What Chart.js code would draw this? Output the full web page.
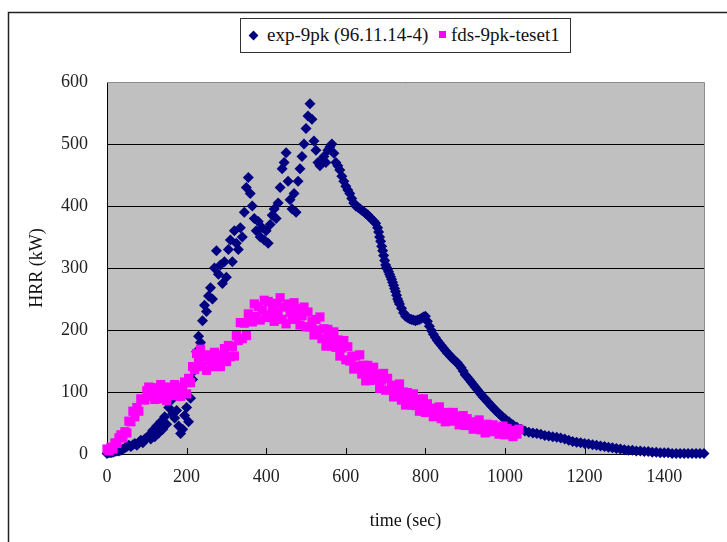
<!DOCTYPE html>
<html>
<head>
<meta charset="utf-8">
<script src="https://cdn.jsdelivr.net/npm/chart.js@4"></script>
<style>
  body { margin: 0; background: #fff; }
  #caixa { position: relative; width: 727px; height: 542px; }
  #legenda {
    position: absolute; left: 240px; top: 18px; width: 331px; height: 35px;
    box-sizing: border-box; border: 1px solid #333; background: #fff;
    font: 19px "Liberation Serif", "Times New Roman", serif; color: #111;
  }
  #legenda span { position: absolute; }
  .losango { width: 7px; height: 7px; background: #000080; transform: rotate(45deg); top: 13px; }
  .quadrado { width: 7px; height: 7px; background: #ff00ff; top: 12px; }
</style>
</head>
<body>
<div id="caixa">
  <canvas id="graficoHRR"></canvas>
  <div id="legenda">
    <span class="losango" style="left:9px"></span>
    <span style="left:26px;top:5px">exp-9pk (96.11.14-4)</span>
    <span class="quadrado" style="left:198px"></span>
    <span style="left:210px;top:5px">fds-9pk-teset1</span>
  </div>
</div>
<script>
// ensaio exp-9pk (96.11.14-4) - tempo (s)
const tempoExp = [
  0, 5, 10, 15, 20, 25, 30, 35, 40, 45, 50, 55, 60, 65, 70, 75, 80, 85, 90, 95,
  100, 105, 110, 115, 120, 125, 130, 135, 140, 145, 150, 155, 160, 165, 170, 175, 180, 185, 190, 195,
  200, 205, 210, 215, 220, 225, 230, 235, 240, 245, 250, 255, 260, 265, 270, 275, 280, 285, 290, 295,
  300, 305, 310, 315, 320, 325, 330, 335, 340, 345, 350, 355, 360, 365, 370, 375, 380, 385, 390, 395,
  400, 405, 410, 415, 420, 425, 430, 435, 440, 445, 450, 455, 460, 465, 470, 475, 480, 485, 490, 495,
  500, 505, 510, 515, 520, 525, 530, 535, 540, 545, 550, 555, 560, 565, 570, 575, 580, 585, 590, 595,
  600, 605, 610, 615, 620, 625, 630, 635, 640, 645, 650, 655, 660, 665, 670, 675, 680,
  682.5, 685, 687.5, 690, 692.5, 695, 697.5,
  700, 702.5, 705, 707.5, 710, 712.5, 715, 717.5, 720, 722.5, 725, 727.5, 730, 732.5, 735,
  740, 745, 750, 755, 760, 765, 770, 775, 780, 785, 790, 795,
  800, 805, 810, 815, 820, 825, 830, 835, 840, 845, 850, 855, 860, 865, 870, 875, 880, 885, 890, 895,
  900, 905, 910, 915, 920, 925, 930, 935, 940, 945, 950, 955, 960, 965, 970, 975, 980, 985, 990, 995,
  1000, 1010, 1020, 1030, 1040, 1050, 1060, 1070, 1080, 1090,
  1100, 1110, 1120, 1130, 1140, 1150, 1160, 1170, 1180, 1190,
  1200, 1210, 1220, 1230, 1240, 1250, 1260, 1270, 1280, 1290,
  1300, 1310, 1320, 1330, 1340, 1350, 1360, 1370, 1380, 1390,
  1400, 1410, 1420, 1430, 1440, 1450, 1460, 1470, 1480, 1490, 1500
];
// HRR medido (kW)
const hrrExp = [
  1, 2, 2, 3, 4, 5, 5, 6, 8, 10, 12, 14, 12, 15, 17, 14, 19, 22, 18, 24,
  26, 30, 24, 38, 28, 45, 34, 52, 40, 60, 48, 75, 86, 65, 58, 70, 45, 33, 40, 62,
  75, 52, 90, 120, 135, 165, 190, 180, 215, 240, 230, 255, 268, 250, 300, 328, 290, 305, 275, 310,
  285, 330, 345, 310, 360, 340, 330, 365, 350, 390, 430, 446, 420, 400, 380, 360, 375, 350, 365, 345,
  360, 340, 370, 385, 395, 380, 405, 430, 460, 470, 486, 440, 410, 395, 420, 390, 440, 460, 480, 500,
  525, 545, 565, 540, 505, 490, 470, 465, 475, 480, 470, 490, 495, 500, 485, 470, 465, 458, 448, 440,
  432, 426, 420, 412, 405, 400, 398, 396, 393, 391, 388, 386, 382, 379, 376, 372, 365,
  358, 350, 343, 335, 328, 320, 312,
  305, 301, 298, 294, 290, 286, 282, 277, 272, 267, 262, 256, 250, 246, 242,
  235, 228, 222, 220, 218, 217, 216, 215, 216, 217, 219, 221,
  222, 214, 206, 199, 193, 188, 183, 179, 175, 171, 167, 163, 160, 156, 153, 150, 147, 143, 139, 134,
  128, 124, 120, 116, 112, 108, 104, 100, 96, 92, 89, 85, 82, 78, 75, 71, 68, 65, 62, 59,
  57, 52, 47, 43, 40, 37, 35, 34, 33, 32,
  30, 29, 28, 27, 26, 24, 22, 20, 19, 18,
  17, 16, 15, 14, 13, 12, 11, 10, 9, 8,
  7, 6, 6, 5, 5, 4, 4, 3, 3, 2,
  2, 2, 1, 1, 1, 1, 1, 1, 1, 1, 1
];

// simulacao fds-9pk-teset1 - tempo (s)
const tempoFds = [
  0, 5, 10, 15, 20, 25, 30,
  35, 40, 45, 50, 55, 60, 65, 70, 75, 80, 85, 90, 95, 100,
  105, 110, 115, 120, 125, 130, 135, 140, 145, 150, 155, 160, 165, 170, 175, 180, 185, 190, 195, 200,
  205, 210, 215, 220, 225, 230, 235, 240, 245, 250, 255, 260, 265, 270, 275, 280, 285, 290, 295, 300,
  305, 310, 315, 320, 325, 330, 335, 340, 345, 350, 355, 360, 365, 370, 375, 380, 385, 390, 395, 400,
  405, 410, 415, 420, 425, 430, 435, 440, 445, 450, 455, 460, 465, 470, 475, 480, 485, 490, 495, 500,
  505, 510, 515, 520, 525, 530, 535, 540, 545, 550, 555, 560, 565, 570, 575, 580, 585, 590, 595, 600,
  605, 610, 615, 620, 625, 630, 635, 640, 645, 650, 655, 660, 665, 670, 675, 680, 685, 690, 695, 700,
  705, 710, 715, 720, 725, 730, 735, 740, 745, 750, 755, 760, 765, 770, 775, 780, 785, 790, 795, 800,
  805, 810, 815, 820, 825, 830, 835, 840, 845, 850, 855, 860, 865, 870, 875, 880, 885, 890, 895, 900,
  905, 910, 915, 920, 925, 930, 935, 940, 945, 950, 955, 960, 965, 970, 975, 980, 985, 990, 995, 1000,
  1005, 1010, 1015, 1020, 1025, 1030, 1035
];
// HRR simulado (kW)
const hrrFds = [
  8, 5, 11, 8, 18, 17, 26,
  31, 26, 36, 34, 53, 52, 69, 60, 75, 69, 89, 88, 87, 102,
  108, 93, 102, 88, 107, 96, 112, 89, 102, 86, 108, 100, 94, 112, 98, 108, 93, 104, 116, 97,
  122, 115, 141, 136, 162, 151, 169, 141, 156, 135, 160, 150, 141, 164, 146, 160, 141, 156, 170, 149,
  175, 157, 173, 158, 191, 183, 212, 186, 211, 191, 226, 219, 213, 242, 222, 238, 216, 232, 248, 220,
  246, 224, 235, 214, 243, 228, 252, 217, 237, 210, 242, 229, 217, 244, 220, 234, 208, 223, 237, 205,
  229, 205, 214, 192, 217, 200, 221, 186, 202, 174, 201, 187, 174, 197, 172, 184, 158, 171, 183, 152,
  173, 150, 157, 137, 158, 142, 160, 129, 143, 118, 143, 131, 119, 140, 119, 129, 106, 119, 130, 103,
  122, 103, 109, 92, 111, 98, 113, 87, 100, 79, 99, 89, 79, 97, 78, 88, 69, 80, 89, 67,
  81, 68, 72, 60, 74, 65, 76, 57, 66, 52, 67, 60, 53, 67, 54, 61, 47, 55, 62, 46,
  57, 46, 50, 40, 52, 45, 55, 39, 47, 34, 48, 42, 36, 47, 37, 43, 32, 39, 45, 31,
  41, 32, 36, 28, 38, 32, 40
];

const marcasX = [0, 200, 400, 600, 800, 1000, 1200, 1400];

const paraPontos = (tempos, valores) => tempos.map((t, i) => ({ x: t, y: valores[i] }));

// fundo cinza, borda e marcas internas do eixo x
const areaPlot = {
  id: 'areaPlot',
  beforeDraw(chart) {
    const { ctx, chartArea: a } = chart;
    ctx.save();
    ctx.fillStyle = '#c0c0c0';
    ctx.fillRect(a.left, a.top, a.right - a.left, a.bottom - a.top);
    // moldura externa
    ctx.strokeStyle = '#222';
    ctx.lineWidth = 1.5;
    ctx.beginPath();
    ctx.moveTo(8.5, 542);
    ctx.lineTo(8.5, 12.5);
    ctx.lineTo(727, 12.5);
    ctx.stroke();
    ctx.restore();
  },
  beforeDatasetsDraw(chart) {
    const { ctx, chartArea: a, scales } = chart;
    ctx.save();
    ctx.strokeStyle = '#8c8c8c';
    ctx.lineWidth = 1;
    ctx.beginPath();
    ctx.moveTo(a.left, a.top + 0.5);
    ctx.lineTo(a.right + 0.5, a.top + 0.5);
    ctx.lineTo(a.right + 0.5, a.bottom);
    ctx.stroke();
    ctx.strokeStyle = '#000';
    ctx.beginPath();
    marcasX.forEach(v => {
      if (v === 0) return;
      const px = Math.round(scales.x.getPixelForValue(v)) + 0.5;
      ctx.moveTo(px, a.bottom);
      ctx.lineTo(px, a.bottom - 6);
    });
    ctx.stroke();
    ctx.restore();
  }
};

Chart.defaults.font.family = "'Liberation Serif', 'Times New Roman', serif";
Chart.defaults.color = '#222';

const ctx = document.getElementById('graficoHRR').getContext('2d');
const grafico = new Chart(ctx, {
  type: 'scatter',
  data: {
    datasets: [{
      label: 'exp-9pk (96.11.14-4)',
      data: paraPontos(tempoExp, hrrExp),
      pointStyle: 'rectRot',
      pointRadius: 5.5,
      pointBorderWidth: 0,
      backgroundColor: '#000080',
      borderColor: '#000080',
      clip: false,
      order: 1
    }, {
      label: 'fds-9pk-teset1',
      data: paraPontos(tempoFds, hrrFds),
      pointStyle: 'rect',
      pointRadius: 6.5,
      pointBorderWidth: 0,
      backgroundColor: '#ff00ff',
      borderColor: '#ff00ff',
      clip: false,
      order: 0
    }]
  },
  options: {
    responsive: true,
    maintainAspectRatio: false,
    animation: false,
    layout: { padding: { top: 82, right: 23, bottom: 0, left: 0 } },
    plugins: {
      legend: { display: false },
      tooltip: { enabled: false }
    },
    scales: {
      x: {
        type: 'linear',
        min: 0,
        max: 1500,
        afterFit: (s) => { s.height = 88; },
        grid: { display: false, drawTicks: false },
        border: { color: '#000', width: 1 },
        ticks: {
          stepSize: 200,
          includeBounds: false,
          padding: 12,
          font: { size: 18 },
          color: '#222',
          callback: (v) => String(v)
        },
        title: {
          display: true,
          text: 'time (sec)',
          font: { size: 18 },
          color: '#111',
          padding: { top: 0, bottom: 10 }
        }
      },
      y: {
        min: 0,
        max: 600,
        afterFit: (s) => { s.width = 107; },
        grid: { color: '#000', lineWidth: 1, drawTicks: false },
        border: { color: '#000', width: 1 },
        ticks: {
          stepSize: 100,
          padding: 19,
          font: { size: 18 },
          color: '#222'
        },
        title: {
          display: true,
          text: 'HRR (kW)',
          font: { size: 18 },
          color: '#111',
          padding: { top: 26, bottom: 0 }
        }
      }
    }
  },
  plugins: [areaPlot]
});
</script>
</body>
</html>
